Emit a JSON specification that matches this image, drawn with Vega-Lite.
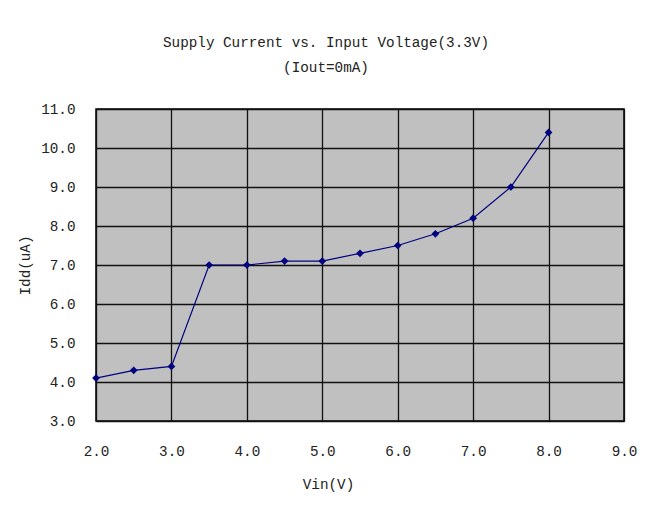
{
  "$schema": "https://vega.github.io/schema/vega-lite/v6.json",
  "autosize": {"type": "none"},
  "width": 528,
  "height": 312,
  "padding": {"left": 96, "top": 109, "right": 22, "bottom": 87},
  "background": "white",
  "title": {
    "text": ["Supply Current vs. Input Voltage(3.3V)", "(Iout=0mA)"],
    "font": "Liberation Mono",
    "fontSize": 14.3,
    "fontWeight": "normal",
    "color": "#222",
    "lineHeight": 25,
    "anchor": "middle",
    "dx": -34,
    "offset": 27
  },
  "data": {
    "values": [
      {"vin": 2.0, "idd": 4.1},
      {"vin": 2.5, "idd": 4.3},
      {"vin": 3.0, "idd": 4.4},
      {"vin": 3.5, "idd": 7.0},
      {"vin": 4.0, "idd": 7.0},
      {"vin": 4.5, "idd": 7.1},
      {"vin": 5.0, "idd": 7.1},
      {"vin": 5.5, "idd": 7.3},
      {"vin": 6.0, "idd": 7.5},
      {"vin": 6.5, "idd": 7.8},
      {"vin": 7.0, "idd": 8.2},
      {"vin": 7.5, "idd": 9.0},
      {"vin": 8.0, "idd": 10.4}
    ]
  },
  "encoding": {
    "x": {
      "field": "vin",
      "type": "quantitative",
      "scale": {"domain": [2, 9], "nice": false, "zero": false},
      "axis": {
        "title": "Vin(V)",
        "values": [2, 3, 4, 5, 6, 7, 8, 9],
        "format": ".1f",
        "domain": false,
        "ticks": false,
        "labelFlush": false,
        "labelPadding": 23,
        "titlePadding": 19,
        "titleX": 232,
        "titleAnchor": "middle"
      }
    },
    "y": {
      "field": "idd",
      "type": "quantitative",
      "scale": {"domain": [3, 11], "nice": false, "zero": false},
      "axis": {
        "title": "Idd(uA)",
        "values": [3, 4, 5, 6, 7, 8, 9, 10, 11],
        "format": ".1f",
        "domain": false,
        "ticks": false,
        "labelFlush": false,
        "labelPadding": 21,
        "titlePadding": 8
      }
    }
  },
  "layer": [
    {"mark": {"type": "line", "color": "#000080", "strokeWidth": 1.2}},
    {"mark": {"type": "point", "shape": "diamond", "filled": true, "color": "#000080", "size": 60, "opacity": 1}}
  ],
  "config": {
    "view": {"fill": "#C0C0C0", "stroke": "#000", "strokeWidth": 1.5},
    "axis": {
      "grid": true,
      "gridColor": "#111",
      "gridWidth": 1.3,
      "gridOpacity": 1,
      "labelFont": "Liberation Mono",
      "labelFontSize": 14.3,
      "labelColor": "#222",
      "titleFont": "Liberation Mono",
      "titleFontSize": 14.3,
      "titleFontWeight": "normal",
      "titleColor": "#222"
    }
  }
}
